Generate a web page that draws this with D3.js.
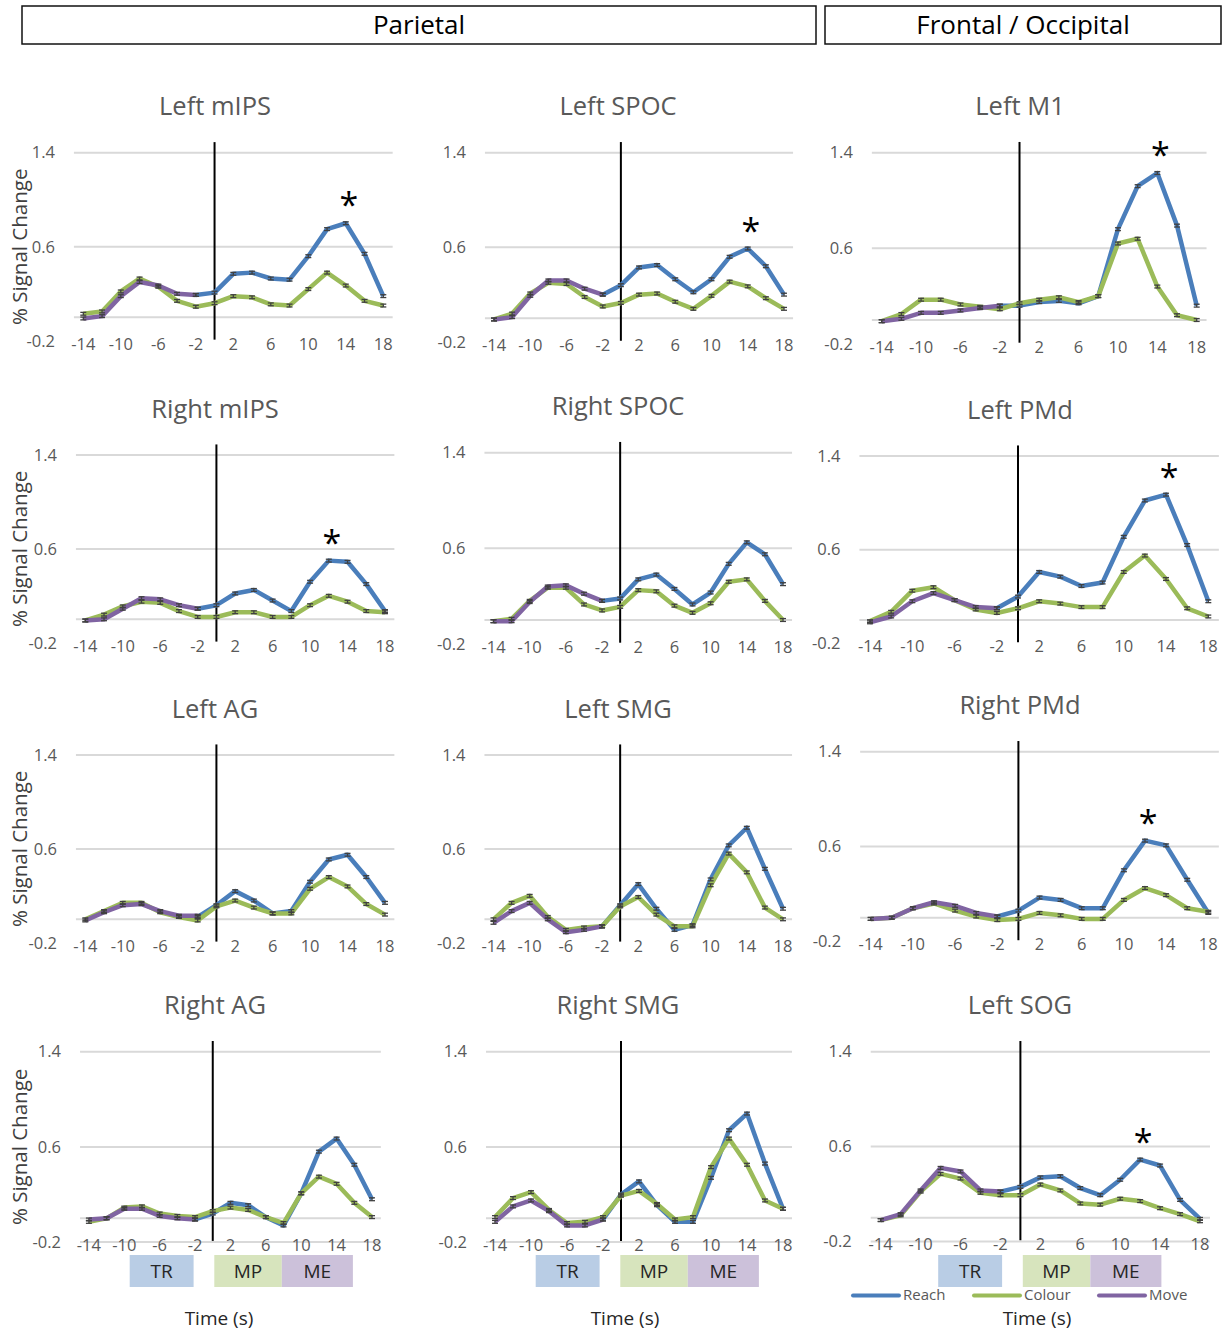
<!DOCTYPE html>
<html>
<head>
<meta charset="utf-8">
<script src="https://cdn.jsdelivr.net/npm/d3@7"></script>
<style>
  body { margin: 0; background: #fff; }
  svg { display: block; }
  text { font-family: 'Open Sans', 'Noto Sans', sans-serif; }
</style>
</head>
<body>
<svg id="chart" width="1225" height="1331"></svg>
<script>
// ---- data -------------------------------------------------------------
const times = [-14, -12, -10, -8, -6, -4, -2, 0, 2, 4, 6, 8, 10, 12, 14, 16, 18];
const moveTimes = [-14, -12, -10, -8, -6, -4, -2];
const reachTimes = [-2, 0, 2, 4, 6, 8, 10, 12, 14, 16, 18];
const xTickLabels = [-14, -10, -6, -2, 2, 6, 10, 14, 18];
const yTickLabels = [1.4, 0.6, -0.2];

const groupHeaders = ["Parietal", "Frontal / Occipital"];

const regionNames = [
  "Left mIPS", "Left SPOC", "Left M1",
  "Right mIPS", "Right SPOC", "Left PMd",
  "Left AG", "Left SMG", "Right PMd",
  "Right AG", "Right SMG", "Left SOG"
];

// % signal change, Reach condition (from -2 s onward)
const reachValues = [
  [0.19, 0.21, 0.37, 0.38, 0.33, 0.32, 0.52, 0.75, 0.80, 0.54, 0.18],
  [0.20, 0.28, 0.43, 0.45, 0.33, 0.22, 0.33, 0.52, 0.59, 0.44, 0.20],
  [0.12, 0.12, 0.15, 0.16, 0.14, 0.20, 0.76, 1.12, 1.23, 0.79, 0.12],
  [0.09, 0.12, 0.22, 0.25, 0.16, 0.07, 0.32, 0.50, 0.49, 0.30, 0.07],
  [0.16, 0.18, 0.34, 0.38, 0.26, 0.13, 0.23, 0.47, 0.65, 0.55, 0.30],
  [0.10, 0.20, 0.41, 0.37, 0.29, 0.32, 0.71, 1.02, 1.07, 0.64, 0.16],
  [0.02, 0.12, 0.24, 0.16, 0.05, 0.07, 0.32, 0.51, 0.55, 0.36, 0.14],
  [-0.06, 0.12, 0.30, 0.09, -0.09, -0.05, 0.34, 0.63, 0.78, 0.43, 0.09],
  [0.01, 0.06, 0.17, 0.15, 0.08, 0.08, 0.40, 0.65, 0.61, 0.32, 0.04],
  [-0.01, 0.04, 0.13, 0.11, 0.01, -0.06, 0.21, 0.56, 0.67, 0.45, 0.16],
  [-0.01, 0.20, 0.31, 0.11, -0.03, -0.03, 0.34, 0.74, 0.88, 0.46, 0.08],
  [0.22, 0.26, 0.34, 0.35, 0.25, 0.19, 0.32, 0.49, 0.44, 0.15, -0.01]
];

// % signal change, Colour condition (full trial)
const colourValues = [
  [0.03, 0.05, 0.22, 0.33, 0.26, 0.14, 0.09, 0.12, 0.18, 0.17, 0.11, 0.10, 0.24, 0.38, 0.27, 0.14, 0.10],
  [-0.01, 0.04, 0.21, 0.30, 0.29, 0.18, 0.10, 0.13, 0.20, 0.21, 0.14, 0.08, 0.19, 0.31, 0.27, 0.17, 0.08],
  [-0.01, 0.05, 0.17, 0.17, 0.13, 0.11, 0.09, 0.14, 0.17, 0.19, 0.15, 0.20, 0.64, 0.68, 0.28, 0.04, 0.00],
  [-0.01, 0.04, 0.11, 0.15, 0.14, 0.07, 0.02, 0.02, 0.06, 0.06, 0.02, 0.02, 0.12, 0.20, 0.15, 0.07, 0.06],
  [-0.01, 0.01, 0.16, 0.27, 0.27, 0.13, 0.08, 0.11, 0.25, 0.24, 0.12, 0.06, 0.14, 0.32, 0.34, 0.16, 0.00],
  [-0.01, 0.07, 0.25, 0.28, 0.17, 0.09, 0.06, 0.10, 0.16, 0.14, 0.11, 0.11, 0.41, 0.55, 0.35, 0.10, 0.03],
  [0.00, 0.07, 0.14, 0.14, 0.06, 0.02, -0.01, 0.11, 0.16, 0.10, 0.05, 0.05, 0.26, 0.36, 0.28, 0.13, 0.04],
  [0.00, 0.14, 0.20, 0.02, -0.09, -0.07, -0.06, 0.11, 0.19, 0.04, -0.06, -0.06, 0.29, 0.56, 0.40, 0.10, 0.00],
  [-0.01, 0.00, 0.08, 0.12, 0.06, 0.01, -0.02, -0.01, 0.04, 0.02, -0.01, -0.01, 0.15, 0.25, 0.19, 0.08, 0.05],
  [-0.03, 0.00, 0.09, 0.10, 0.04, 0.02, 0.01, 0.06, 0.09, 0.07, 0.01, -0.04, 0.21, 0.35, 0.29, 0.13, 0.01],
  [0.01, 0.17, 0.22, 0.07, -0.04, -0.03, 0.01, 0.19, 0.23, 0.12, -0.01, 0.01, 0.43, 0.67, 0.45, 0.15, 0.08],
  [-0.02, 0.02, 0.22, 0.37, 0.33, 0.21, 0.19, 0.19, 0.28, 0.23, 0.12, 0.11, 0.16, 0.14, 0.08, 0.03, -0.03]
];

// % signal change, Move condition (pre-cue period)
const moveValues = [
  [-0.01, 0.01, 0.18, 0.30, 0.27, 0.20, 0.19],
  [-0.01, 0.01, 0.19, 0.32, 0.32, 0.25, 0.20],
  [-0.01, 0.01, 0.06, 0.06, 0.08, 0.10, 0.12],
  [-0.01, 0.00, 0.09, 0.18, 0.17, 0.12, 0.09],
  [-0.01, -0.01, 0.15, 0.28, 0.29, 0.22, 0.16],
  [-0.02, 0.03, 0.16, 0.23, 0.17, 0.11, 0.10],
  [-0.01, 0.06, 0.12, 0.13, 0.07, 0.03, 0.03],
  [-0.03, 0.07, 0.14, 0.00, -0.11, -0.09, -0.06],
  [-0.01, 0.00, 0.08, 0.13, 0.10, 0.04, 0.01],
  [-0.01, 0.00, 0.08, 0.08, 0.02, 0.00, -0.01],
  [-0.03, 0.10, 0.15, 0.06, -0.06, -0.06, -0.01],
  [-0.02, 0.03, 0.23, 0.42, 0.39, 0.23, 0.22]
];

// time point of the significant Reach > Colour difference (null = none)
const sigTimes = [14, 14, 14, 12, null, 14, null, null, 12, null, null, 12];

const standardError = 0.012;

const phaseLabels = ["TR", "MP", "ME"];
const phaseStarts = [-9.2, 0.2, 7.7];
const phaseEnds = [-2.1, 7.7, 15.6];

const seriesNames = ["Reach", "Colour", "Move"];

// ---- styling & layout -------------------------------------------------
const seriesColors = { Reach: "#4a7ebb", Colour: "#9bbb59", Move: "#8064a2" };
const phaseColors = ["#b9cde5", "#d7e4bd", "#ccc1da"];

// plot frame of each panel: pixel x of first/last time point, pixel y of 1.4 and 0
const frames = [
  { x0: 83.3, x1: 383.3, yTop: 152.7, yZero: 317.3 },
  { x0: 494.0, x1: 784.0, yTop: 152.7, yZero: 318.3 },
  { x0: 881.7, x1: 1196.7, yTop: 152.7, yZero: 320.0 },
  { x0: 85.3, x1: 385.0, yTop: 455.0, yZero: 619.3 },
  { x0: 493.5, x1: 783.0, yTop: 452.7, yZero: 620.0 },
  { x0: 870.0, x1: 1208.3, yTop: 456.0, yZero: 620.0 },
  { x0: 85.3, x1: 385.0, yTop: 755.0, yZero: 919.3 },
  { x0: 493.5, x1: 783.0, yTop: 755.0, yZero: 919.3 },
  { x0: 870.7, x1: 1208.3, yTop: 751.7, yZero: 917.7 },
  { x0: 88.9, x1: 372.0, yTop: 1051.7, yZero: 1218.3 },
  { x0: 495.0, x1: 783.0, yTop: 1051.7, yZero: 1218.3 },
  { x0: 880.7, x1: 1200.0, yTop: 1051.7, yZero: 1217.7 }
];
const titleX = [215, 618, 1020];
const timeLabelX = [219, 625, 1037];
const phaseOrigin = [212.5, 618.5, 1021];  // x of t = 0 for the phase strip
const phasePxPerSec = 9;

const svg = d3.select("#chart");

// ---- group headers ----------------------------------------------------
const headerBoxes = [[22, 816], [825, 1221]];
groupHeaders.forEach((h, i) => {
  const [a, b] = headerBoxes[i];
  svg.append("rect").attr("x", a).attr("y", 6).attr("width", b - a).attr("height", 38)
    .attr("fill", "none").attr("stroke", "#111").attr("stroke-width", 1.5);
  svg.append("text").attr("x", (a + b) / 2).attr("y", 25).attr("dy", "0.36em")
    .attr("text-anchor", "middle").attr("font-size", 26).attr("fill", "#000").text(h);
});

// ---- panels -----------------------------------------------------------
regionNames.forEach((name, p) => {
  const f = frames[p];
  const col = p % 3, row = Math.floor(p / 3);
  const g = svg.append("g");

  const x = d3.scalePoint().domain(times).range([f.x0, f.x1]);
  const step = x.step();
  const y = d3.scaleLinear().domain([0, 1.4]).range([f.yZero, f.yTop]);
  const gx0 = f.x0 - step / 2, gx1 = f.x1 + step / 2;

  // gridlines (1.4, 0.6) and the zero axis line
  const gridVals = row === 3 ? [1.4, 0.6, 0, -0.2] : [1.4, 0.6, 0];
  g.selectAll("line.grid").data(gridVals).join("line")
    .attr("x1", gx0).attr("x2", gx1)
    .attr("y1", d => y(d)).attr("y2", d => y(d))
    .attr("stroke", "#d9d9d9").attr("stroke-width", 2);

  // y tick labels
  g.selectAll("text.ytick").data(yTickLabels).join("text")
    .attr("x", gx0 - 19).attr("y", d => y(d)).attr("dy", "0.35em")
    .attr("text-anchor", "end").attr("font-size", 16.5).attr("fill", "#595959")
    .text(d => d.toFixed(1));

  // x tick labels
  g.selectAll("text.xtick").data(xTickLabels).join("text")
    .attr("x", d => x(d)).attr("y", y(-0.2) + 3).attr("dy", "0.35em")
    .attr("text-anchor", "middle").attr("font-size", 16.5).attr("fill", "#595959")
    .text(d => d);

  // cue onset
  g.append("line").attr("x1", x(0)).attr("x2", x(0))
    .attr("y1", y(1.49)).attr("y2", y(-0.19))
    .attr("stroke", "#000").attr("stroke-width", 2);

  // series
  const series = [
    { key: "Reach", pts: reachTimes.map((t, i) => [t, reachValues[p][i]]) },
    { key: "Colour", pts: times.map((t, i) => [t, colourValues[p][i]]) },
    { key: "Move", pts: moveTimes.map((t, i) => [t, moveValues[p][i]]) }
  ];
  const line = d3.line().x(d => x(d[0])).y(d => y(d[1]));
  series.forEach(s => {
    g.append("path").datum(s.pts).attr("d", line)
      .attr("fill", "none").attr("stroke", seriesColors[s.key])
      .attr("stroke-width", 4.5).attr("stroke-linejoin", "round").attr("stroke-linecap", "butt");
  });

  // error bars
  series.forEach(s => {
    const eb = g.append("g").attr("stroke", "#404040").attr("stroke-width", 1.3);
    s.pts.forEach(([t, v]) => {
      const cx = x(t);
      eb.append("line").attr("x1", cx).attr("x2", cx)
        .attr("y1", y(v + standardError)).attr("y2", y(v - standardError));
      [v + standardError, v - standardError].forEach(e => {
        eb.append("line").attr("x1", cx - 3).attr("x2", cx + 3)
          .attr("y1", y(e)).attr("y2", y(e));
      });
    });
  });

  // significance marker
  if (sigTimes[p] !== null) {
    const v = reachValues[p][reachTimes.indexOf(sigTimes[p])];
    g.append("text").attr("x", x(sigTimes[p]) + 3).attr("y", y(v) - 24 + 18)
      .attr("text-anchor", "middle").attr("font-size", 34).attr("fill", "#000").text("*");
  }

  // panel title
  g.append("text").attr("x", titleX[col]).attr("y", f.yTop - 46.5).attr("dy", "0.36em")
    .attr("text-anchor", "middle").attr("font-size", 25.5).attr("fill", "#595959").text(name);

  // y axis title on the left column
  if (col === 0) {
    const cy = (y(1.4) + y(-0.2)) / 2;
    g.append("text").attr("transform", `translate(20,${cy}) rotate(-90)`).attr("dy", "0.36em")
      .attr("text-anchor", "middle").attr("font-size", 20.5).attr("fill", "#404040")
      .text("% Signal Change");
  }
});

// ---- trial phases and time labels ---------------------------------------
[0, 1, 2].forEach(col => {
  const px = d3.scaleLinear().domain([0, 1]).range([phaseOrigin[col], phaseOrigin[col] + phasePxPerSec]);
  phaseLabels.forEach((lab, i) => {
    svg.append("rect").attr("x", px(phaseStarts[i])).attr("y", 1255)
      .attr("width", px(phaseEnds[i]) - px(phaseStarts[i])).attr("height", 32)
      .attr("fill", phaseColors[i]);
    svg.append("text").attr("x", (px(phaseStarts[i]) + px(phaseEnds[i])) / 2).attr("y", 1271)
      .attr("dy", "0.36em").attr("text-anchor", "middle").attr("font-size", 19)
      .attr("fill", "#262626").text(lab);
  });
  svg.append("text").attr("x", timeLabelX[col]).attr("y", 1318).attr("dy", "0.35em")
    .attr("text-anchor", "middle").attr("font-size", 19).attr("fill", "#262626").text("Time (s)");
});

// ---- legend -----------------------------------------------------------
const legendX = [853, 974, 1099];
seriesNames.forEach((s, i) => {
  svg.append("line").attr("x1", legendX[i]).attr("x2", legendX[i] + 46)
    .attr("y1", 1295.5).attr("y2", 1295.5).attr("stroke", seriesColors[s])
    .attr("stroke-width", 4).attr("stroke-linecap", "round");
  svg.append("text").attr("x", legendX[i] + 50).attr("y", 1294.5).attr("dy", "0.35em")
    .attr("font-size", 15).attr("fill", "#595959").text(s);
});
</script>
</body>
</html>
